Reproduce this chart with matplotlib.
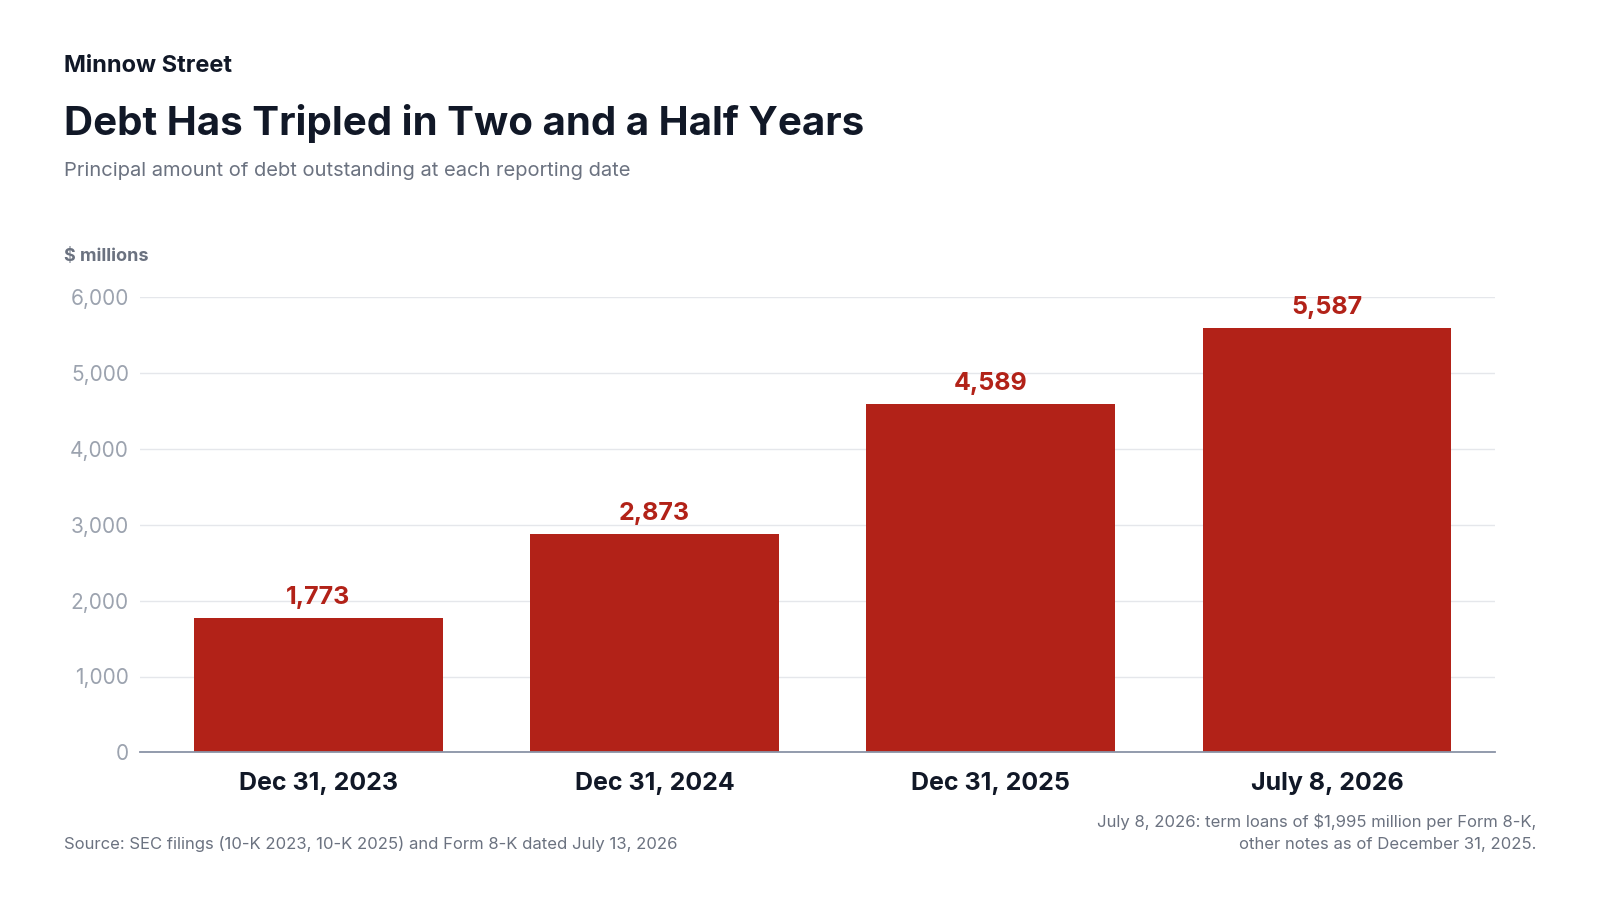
import matplotlib.pyplot as plt

plt.rcParams['font.family'] = ['Inter', 'DejaVu Sans']

dates = ["Dec 31, 2023", "Dec 31, 2024", "Dec 31, 2025", "July 8, 2026"]
debt = [1773, 2873, 4589, 5587]
yticks = [0, 1000, 2000, 3000, 4000, 5000, 6000]

fig = plt.figure(figsize=(16, 9), dpi=100)
ax = fig.add_axes([0.0875, 0.164, 0.847, 0.506])

x = range(len(dates))
ax.bar(x, debt, width=0.74, color='#B22218', zorder=2)
for i, v in zip(x, debt):
    ax.text(i, v + 120, f"{v:,}", ha='center', va='bottom', fontsize=18,
            fontweight='bold', color='#B22218')

ax.set_xlim(-0.53, 3.5)
ax.set_ylim(0, 6000)
ax.set_yticks(yticks)
ax.set_yticklabels([f"{t:,}" for t in yticks], fontsize=15, color='#9CA3AF')
ax.set_xticks(list(x))
ax.set_xticklabels(dates, fontsize=18, fontweight='bold', color='#111827')
ax.tick_params(axis='both', length=0)
ax.tick_params(axis='x', pad=14)
ax.tick_params(axis='y', pad=8)
ax.grid(axis='y', color='#E5E7EB', linewidth=1, zorder=0)
for s in ['top', 'right', 'left']:
    ax.spines[s].set_visible(False)
ax.spines['bottom'].set_color('#8A93A6')
ax.spines['bottom'].set_linewidth(1.3)

fig.text(0.04, 0.92, "Minnow Street", fontsize=17, fontweight='bold', color='#111827')
fig.text(0.04, 0.85, "Debt Has Tripled in Two and a Half Years", fontsize=29,
         fontweight='bold', color='#111827')
fig.text(0.04, 0.805, "Principal amount of debt outstanding at each reporting date",
         fontsize=14.5, color='#6B7280')
fig.text(0.04, 0.71, "$ millions", fontsize=13, fontweight='bold', color='#6B7280')
fig.text(0.04, 0.057, "Source: SEC filings (10-K 2023, 10-K 2025) and Form 8-K dated July 13, 2026",
         fontsize=12, color='#6B7280')
fig.text(0.96, 0.057, "July 8, 2026: term loans of $1,995 million per Form 8-K,\nother notes as of December 31, 2025.",
         fontsize=12, color='#6B7280', ha='right', linespacing=1.6)

fig.savefig("out.png", dpi=100, facecolor='white')
